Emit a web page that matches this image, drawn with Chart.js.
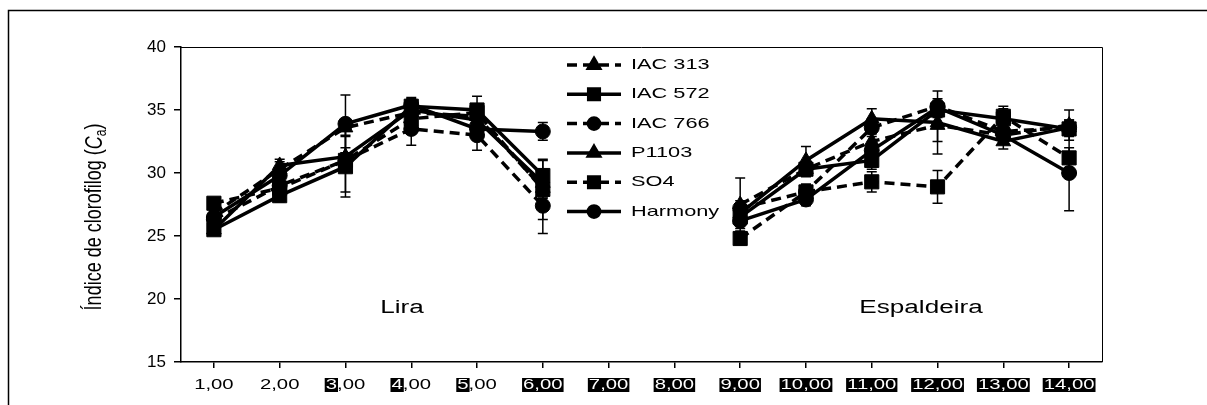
<!DOCTYPE html>
<html>
<head>
<meta charset="utf-8">
<script src="https://cdn.jsdelivr.net/npm/chart.js@4/dist/chart.umd.min.js"></script>
<style>
  html, body { margin: 0; padding: 0; background: #fff; }
  #wrap { width: 1207px; height: 405px; position: relative; }
</style>
</head>
<body>
<div id="wrap"><canvas id="chloroChart" width="1207" height="405"></canvas></div>
<script>
// x categories (days); 7 and 8 are empty between the two systems
const categories = ['1,00', '2,00', '3,00', '4,00', '5,00', '6,00', '7,00',
                    '8,00', '9,00', '10,00', '11,00', '12,00', '13,00', '14,00'];
const yTicks = [15, 20, 25, 30, 35, 40];

const iac313  = [26.8, 30.3, 33.6, 34.8, 34.5, 28.8, null, null, 27.5, 30.3, 32.5, 33.8, 33.0, 33.8];
const iac572  = [25.5, 28.2, 30.5, 35.3, 35.0, 29.8, null, null, 26.5, 30.3, 31.0, 35.0, 34.3, 33.5];
const iac766  = [26.3, 29.0, 31.0, 33.5, 33.0, 27.4, null, null, 27.2, 28.5, 33.6, 35.3, 33.3, 33.6];
const p1103   = [25.5, 30.6, 31.3, 35.0, 34.2, 29.2, null, null, 26.8, 31.0, 34.3, 34.0, 32.5, 33.6];
const so4     = [27.6, 28.8, 31.0, 34.3, 34.8, 28.7, null, null, 24.8, 28.5, 29.3, 28.9, 34.5, 31.2];
const harmony = [26.5, 29.8, 33.9, 35.4, 33.5, 33.3, null, null, 26.2, 27.9, 31.8, 35.2, 33.0, 30.0];

// standard error (+/-) per point
const iac313Err  = [0.5, 0.6, 0.6, 0.5, 0.6, 0.8, null, null, 2.1, 0.6, 0.6, 1.3, 0.6, 1.2];
const iac572Err  = [0.4, 0.5, 2.4, 0.6, 1.1, 1.2, null, null, 0.5, 0.5, 0.7, 0.6, 1.0, 0.6];
const iac766Err  = [0.5, 0.5, 2.5, 1.3, 1.2, 2.2, null, null, 0.6, 0.6, 0.7, 0.6, 0.5, 0.6];
const p1103Err   = [0.4, 0.5, 0.7, 0.5, 0.6, 1.1, null, null, 0.5, 1.1, 0.8, 2.5, 0.6, 0.6];
const so4Err     = [0.4, 0.5, 0.6, 0.6, 0.6, 2.4, null, null, 0.5, 0.6, 0.8, 1.3, 0.6, 0.8];
const harmonyErr = [0.5, 0.5, 2.3, 0.6, 0.7, 0.7, null, null, 0.6, 0.5, 0.7, 0.5, 0.6, 3.0];

const seriesNames = ['IAC 313', 'IAC 572', 'IAC 766', 'P1103', 'SO4', 'Harmony'];
const seriesData  = [iac313, iac572, iac766, p1103, so4, harmony];
const seriesErr   = [iac313Err, iac572Err, iac766Err, p1103Err, so4Err, harmonyErr];
const seriesStyle = ['triangle', 'rect', 'circle', 'triangle', 'rect', 'circle'];
const seriesDashed = [true, false, true, false, true, false];

const FONT = '"Liberation Sans", Arial, sans-serif';
const STRETCH = 1.45;  // the reference text is drawn wide

function markerRadius(style) {
    if (style === 'rect') return 10;
    if (style === 'triangle') return 8.5;
    return 7.5;
}

function wideText(ctx, text, x, y, size, align, color) {
    ctx.save();
    ctx.font = size + 'px ' + FONT;
    ctx.fillStyle = color || '#000';
    ctx.textBaseline = 'middle';
    ctx.translate(x, y);
    ctx.scale(STRETCH, 1);
    ctx.textAlign = align || 'left';
    ctx.fillText(text, 0, 0);
    ctx.restore();
}

const decorPlugin = {
    id: 'decor',
    beforeDatasetsDraw(chart) {
        // error bars under the markers
        const ctx = chart.ctx;
        const xs = chart.scales.x, ys = chart.scales.y;
        ctx.save();
        ctx.strokeStyle = '#000';
        ctx.lineWidth = 1.5;
        seriesData.forEach((vals, si) => {
            vals.forEach((v, i) => {
                const e = seriesErr[si][i];
                if (v === null || !e) return;
                const x = xs.getPixelForValue(i);
                const yTop = ys.getPixelForValue(v + e);
                const yBot = ys.getPixelForValue(v - e);
                ctx.beginPath();
                ctx.moveTo(x, yTop); ctx.lineTo(x, yBot);
                ctx.moveTo(x - 5, yTop); ctx.lineTo(x + 5, yTop);
                ctx.moveTo(x - 5, yBot); ctx.lineTo(x + 5, yBot);
                ctx.stroke();
            });
        });
        ctx.restore();
    },
    afterDraw(chart) {
        const ctx = chart.ctx;
        const area = chart.chartArea;
        const xs = chart.scales.x;

        ctx.save();
        // plot box top/right
        ctx.strokeStyle = '#000';
        ctx.lineWidth = 1;
        ctx.beginPath();
        ctx.moveTo(area.left, area.top + 0.5);
        ctx.lineTo(area.right + 0.5, area.top + 0.5);
        ctx.lineTo(area.right + 0.5, area.bottom);
        ctx.stroke();

        // outer frame
        ctx.lineWidth = 1.5;
        ctx.beginPath();
        ctx.moveTo(8.5, 405);
        ctx.lineTo(8.5, 10.5);
        ctx.lineTo(1207, 10.5);
        ctx.stroke();

        // legend
        seriesNames.forEach((name, si) => {
            const y = 65 + si * 29.3;
            ctx.save();
            ctx.strokeStyle = '#000';
            ctx.lineWidth = 3.5;
            ctx.setLineDash(seriesDashed[si] ? [10, 6] : []);
            ctx.beginPath();
            ctx.moveTo(567, y); ctx.lineTo(621, y);
            ctx.stroke();
            ctx.setLineDash([]);
            ctx.fillStyle = '#000';
            Chart.helpers.drawPoint(ctx, {
                pointStyle: seriesStyle[si],
                radius: markerRadius(seriesStyle[si]) * 0.75,
                rotation: 0,
                borderWidth: 1
            }, 594, y);
            ctx.restore();
            wideText(ctx, name, 631, y, 15, 'left');
        });

        // group labels
        wideText(ctx, 'Lira', 402, 308, 18, 'center');
        wideText(ctx, 'Espaldeira', 921, 308, 18, 'center');

        // y title with italic C and subscript a
        ctx.save();
        ctx.translate(95, 217);
        ctx.rotate(-Math.PI / 2);
        ctx.scale(1, 1.3);
        ctx.fillStyle = '#000';
        ctx.textBaseline = 'middle';
        const p1 = 'Índice de clorofilog (';
        const fN = '18px ' + FONT, fI = 'italic 18px ' + FONT, fS = '12px ' + FONT;
        ctx.font = fN; const w1 = ctx.measureText(p1).width; const w4 = ctx.measureText(')').width;
        ctx.font = fI; const w2 = ctx.measureText('C').width;
        ctx.font = fS; const w3 = ctx.measureText('a').width;
        let x0 = -(w1 + w2 + w3 + w4) / 2;
        ctx.font = fN; ctx.fillText(p1, x0, 0); x0 += w1;
        ctx.font = fI; ctx.fillText('C', x0, 0); x0 += w2;
        ctx.font = fS; ctx.fillText('a', x0, 5); x0 += w3;
        ctx.font = fN; ctx.fillText(')', x0, 0);
        ctx.restore();

        // x labels, several printed on black boxes as in the source
        const fullBox = [5, 6, 7, 8, 9, 10, 11, 12, 13];
        const digitBox = [2, 3, 4];
        const ly = 385;
        categories.forEach((lab, i) => {
            const x = xs.getPixelForValue(i);
            ctx.font = '14px ' + FONT;
            const w = ctx.measureText(lab).width * STRETCH;
            if (fullBox.includes(i)) {
                ctx.fillStyle = '#000';
                ctx.fillRect(x - w / 2 - 1, ly - 7, w + 2, 14);
                wideText(ctx, lab, x, ly, 14, 'center', '#fff');
            } else if (digitBox.includes(i)) {
                const dw = ctx.measureText(lab.split(',')[0]).width * STRETCH;
                ctx.fillStyle = '#000';
                ctx.fillRect(x - w / 2 - 1, ly - 7, dw + 2, 14);
                wideText(ctx, lab, x, ly, 14, 'center', '#000');
                ctx.save();
                ctx.beginPath();
                ctx.rect(x - w / 2 - 1, ly - 7, dw + 2, 14);
                ctx.clip();
                wideText(ctx, lab, x, ly, 14, 'center', '#fff');
                ctx.restore();
            } else {
                wideText(ctx, lab, x, ly, 14, 'center', '#000');
            }
        });
        ctx.restore();
    }
};

const datasets = seriesNames.map((name, si) => ({
    label: name,
    data: seriesData[si],
    borderColor: '#000',
    backgroundColor: '#000',
    borderWidth: 3.5,
    borderDash: seriesDashed[si] ? [10, 6] : [],
    pointStyle: seriesStyle[si],
    pointRadius: markerRadius(seriesStyle[si]),
    pointBorderWidth: 1,
    pointBackgroundColor: '#000',
    pointBorderColor: '#000',
    tension: 0,
    spanGaps: false
}));

new Chart(document.getElementById('chloroChart'), {
    type: 'line',
    data: { labels: categories, datasets: datasets },
    options: {
        responsive: false,
        animation: false,
        devicePixelRatio: 1,
        layout: { padding: { left: 0, top: 47, right: 105, bottom: 0 } },
        plugins: { legend: { display: false }, tooltip: { enabled: false } },
        scales: {
            x: {
                type: 'category',
                offset: true,
                grid: { offset: false, drawOnChartArea: false, tickLength: 6, color: '#000', lineWidth: 1.5 },
                border: { color: '#000', width: 1.5 },
                ticks: { display: false },
                afterFit(s) { s.height = 405 - 362; }
            },
            y: {
                min: 15,
                max: 40,
                afterBuildTicks(s) { s.ticks = yTicks.map(v => ({ value: v })); },
                grid: { drawOnChartArea: false, tickLength: 7, color: '#000', lineWidth: 1.5 },
                border: { color: '#000', width: 1.5 },
                ticks: { color: '#000', padding: 8, font: { family: FONT, size: 17 } },
                afterFit(s) { s.width = 181; }
            }
        }
    },
    plugins: [decorPlugin]
});
</script>
</body>
</html>
